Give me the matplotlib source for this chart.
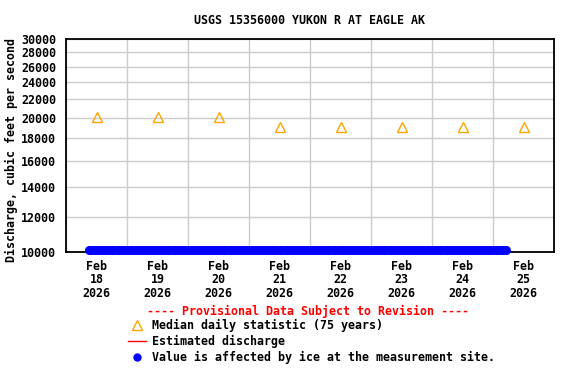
import matplotlib
matplotlib.use("Agg")
import matplotlib.pyplot as plt
import matplotlib.ticker as mticker
import matplotlib.dates as mdates
from matplotlib.lines import Line2D
import pandas as pd

station_title = "USGS 15356000 YUKON R AT EAGLE AK"
y_label = "Discharge, cubic feet per second"
provisional_note = "---- Provisional Data Subject to Revision ----"

# median daily statistic, plotted at noon of each day
median_days = ["2026-02-18", "2026-02-19", "2026-02-20", "2026-02-21",
               "2026-02-22", "2026-02-23", "2026-02-24", "2026-02-25"]
median_values = [20100, 20100, 20100, 19100, 19100, 19100, 19100, 19100]

# ice-affected values, shown along the bottom of the plot
ice_start = "2026-02-18 09:00"
ice_end = "2026-02-25 05:00"
ice_value = 10100

y_ticks = [10000, 12000, 14000, 16000, 18000, 20000, 22000, 24000, 26000, 28000, 30000]
x_start = "2026-02-18"
x_end = "2026-02-26"

plt.rcParams["font.family"] = ["DejaVu Sans Mono"]
plt.rcParams["font.weight"] = "bold"
plt.rcParams["font.size"] = 8.4

fig = plt.figure(figsize=(5.76, 3.84), dpi=100)
ax = fig.add_axes([66 / 576, 1 - 252 / 384, 488 / 576, 213 / 384])

ice_times = pd.date_range(ice_start, ice_end, freq="1h")
ice_vals = [ice_value] * len(ice_times)
ax.plot(ice_times, ice_vals, "o", color="#0000FF", markersize=6.5,
        markeredgewidth=0, clip_on=False, zorder=3)

median_times = pd.to_datetime(median_days) + pd.Timedelta(hours=12)
ax.plot(median_times, median_values, "^", markerfacecolor="none",
        markeredgecolor="#FFA500", markersize=7, markeredgewidth=1, zorder=3)

ax.set_yscale("log")
ax.set_ylim(10000, 30000)
ax.yaxis.set_major_locator(mticker.FixedLocator(y_ticks))
ax.yaxis.set_major_formatter(mticker.FuncFormatter(lambda v, p: "%d" % round(v)))
ax.yaxis.set_minor_locator(mticker.NullLocator())

ax.set_xlim(pd.Timestamp(x_start), pd.Timestamp(x_end))
grid_days = pd.date_range(x_start, x_end, freq="1D")
ax.set_xticks(grid_days)
ax.xaxis.set_major_formatter(mticker.NullFormatter())
ax.set_xticks(median_times, minor=True)
ax.xaxis.set_minor_formatter(mdates.DateFormatter("%b\n%d\n%Y"))

ax.grid(True, which="major", color="#CCCCCC", linewidth=1)
ax.set_axisbelow(True)
ax.tick_params(axis="both", which="both", length=0)
ax.tick_params(axis="x", which="minor", pad=5.5)
ax.tick_params(axis="y", pad=7)
for lbl in ax.get_xticklabels(minor=True) + ax.get_yticklabels():
    lbl.set_linespacing(1.08)
    lbl.set_fontweight("bold")
for sp in ax.spines.values():
    sp.set_linewidth(1.3)

fig.text(309 / 576, 1 - 20 / 384, station_title, ha="center", va="center",
         fontweight="bold")
fig.text(11 / 576, 1 - 150 / 384, y_label, rotation=90, ha="center", va="center",
         fontweight="bold")
fig.text(308 / 576, 1 - 311 / 384, provisional_note, ha="center", va="center",
         color="red", fontweight="bold")

handles = [
    Line2D([], [], linestyle="none", marker="^", markerfacecolor="none",
           markeredgecolor="#FFA500", markersize=7),
    Line2D([], [], color="red", linewidth=1),
    Line2D([], [], linestyle="none", marker="o", color="#0000FF", markersize=5),
]
labels = ["Median daily statistic (75 years)", "Estimated discharge",
          "Value is affected by ice at the measurement site."]
leg = fig.legend(handles, labels, loc="upper left",
                 bbox_to_anchor=(128 / 576, 1 - 319 / 384),
                 frameon=False, handlelength=1.5, handletextpad=0.6,
                 labelspacing=0.25, borderpad=0, borderaxespad=0,
                 prop={"weight": "bold", "size": 8.4})

fig.savefig("out.png", dpi=100)
